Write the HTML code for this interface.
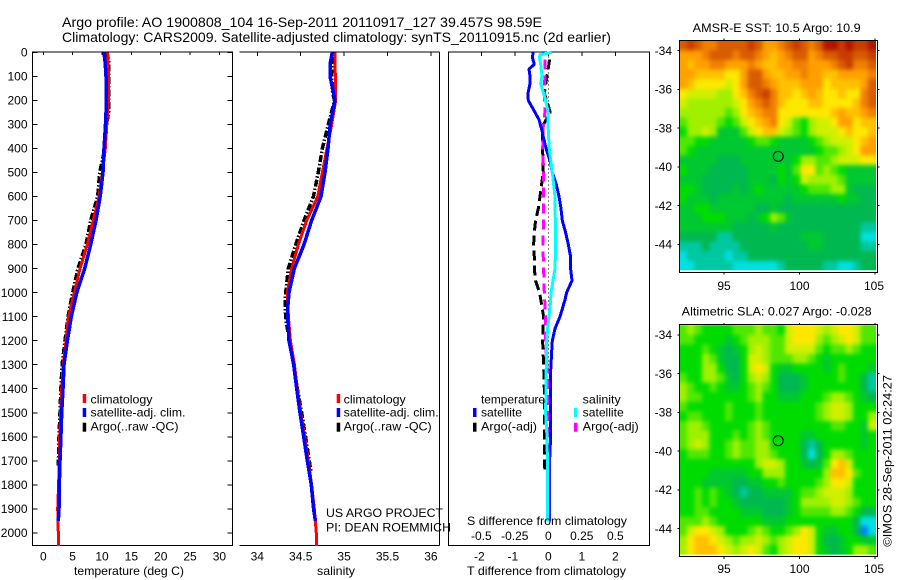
<!DOCTYPE html>
<html lang="en">
<head>
<meta charset="utf-8">
<title>Argo profile 1900808_104</title>
<style>
html,body{margin:0;padding:0;background:#fff;}
svg{display:block;}
text{font-family:"Liberation Sans",sans-serif;font-size:12px;fill:#000;}
</style>
</head>
<body>
<svg id="chart" width="900" height="580" viewBox="0 0 900 580" xmlns="http://www.w3.org/2000/svg">
<defs>
<filter id="map-soften" filterUnits="userSpaceOnUse" x="640" y="0" width="260" height="580" color-interpolation-filters="sRGB"><feGaussianBlur stdDeviation="2"/></filter>
<clipPath id="sst-clip"><rect x="679.5" y="41" width="196.5" height="229.3"/></clipPath>
<clipPath id="sla-clip"><rect x="679.5" y="325.3" width="196.5" height="229.3"/></clipPath>
</defs>
<rect x="0" y="0" width="900" height="580" fill="#fff"/>
<text x="62" y="27" font-size="14" style="font-size:14px" textLength="480" lengthAdjust="spacingAndGlyphs">Argo profile: AO 1900808_104 16-Sep-2011 20110917_127 39.457S 98.59E</text>
<text x="62" y="42" style="font-size:14px" textLength="549" lengthAdjust="spacingAndGlyphs">Climatology: CARS2009. Satellite-adjusted climatology: synTS_20110915.nc (2d earlier)</text>

<g id="panels"></g>

<text x="74" y="575" textLength="110" lengthAdjust="spacingAndGlyphs">temperature (deg C)</text>
<text x="317" y="575" textLength="38" lengthAdjust="spacingAndGlyphs">salinity</text>
<text x="467" y="575" textLength="159" lengthAdjust="spacingAndGlyphs">T difference from climatology</text>
<text x="467" y="525" textLength="160" lengthAdjust="spacingAndGlyphs">S difference from climatology</text>

<g>
<rect x="82.7" y="394" width="3.5" height="9" fill="#f00"/><text x="90.5" y="403.5" textLength="62" lengthAdjust="spacingAndGlyphs">climatology</text>
<rect x="82.7" y="408" width="3.5" height="9" fill="#00f"/><text x="90.5" y="416.7" textLength="95" lengthAdjust="spacingAndGlyphs">satellite-adj. clim.</text>
<rect x="82.7" y="422.7" width="3.5" height="9" fill="#000"/><text x="90.5" y="430.5" textLength="88" lengthAdjust="spacingAndGlyphs">Argo(..raw -QC)</text>
</g>
<g>
<rect x="336.7" y="394" width="3.5" height="9" fill="#f00"/><text x="343.7" y="403.5" textLength="62" lengthAdjust="spacingAndGlyphs">climatology</text>
<rect x="336.7" y="408" width="3.5" height="9" fill="#00f"/><text x="343.7" y="416.7" textLength="95" lengthAdjust="spacingAndGlyphs">satellite-adj. clim.</text>
<rect x="336.7" y="422.7" width="3.5" height="9" fill="#000"/><text x="343.7" y="430.5" textLength="88" lengthAdjust="spacingAndGlyphs">Argo(..raw -QC)</text>
</g>
<g>
<text x="481" y="403.5" textLength="64" lengthAdjust="spacingAndGlyphs">temperature</text>
<rect x="473" y="408" width="3.5" height="9" fill="#00f"/><text x="481" y="416.7" textLength="41" lengthAdjust="spacingAndGlyphs">satellite</text>
<rect x="473" y="422.7" width="3.5" height="9" fill="#000"/><text x="481" y="430.5" textLength="56" lengthAdjust="spacingAndGlyphs">Argo(-adj)</text>
</g>
<g>
<text x="582.7" y="403.5" textLength="38" lengthAdjust="spacingAndGlyphs">salinity</text>
<rect x="574" y="408" width="3.5" height="9" fill="#0ff"/><text x="582.7" y="416.7" textLength="41" lengthAdjust="spacingAndGlyphs">satellite</text>
<rect x="574" y="422.7" width="3.5" height="9" fill="#f0f"/><text x="582.7" y="430.5" textLength="56" lengthAdjust="spacingAndGlyphs">Argo(-adj)</text>
</g>
<text x="326" y="517" textLength="117" lengthAdjust="spacingAndGlyphs">US ARGO PROJECT</text>
<text x="326" y="531.5" textLength="125" lengthAdjust="spacingAndGlyphs">PI: DEAN ROEMMICH</text>

<text x="692.7" y="32" textLength="168" lengthAdjust="spacingAndGlyphs">AMSR-E SST: 10.5 Argo: 10.9</text>
<text x="681.7" y="315.7" textLength="190" lengthAdjust="spacingAndGlyphs">Altimetric SLA: 0.027 Argo: -0.028</text>
<text transform="translate(891.5 546.7) rotate(-90)" x="0" y="0" textLength="171.7" lengthAdjust="spacingAndGlyphs">©IMOS 28-Sep-2011 02:24:27</text>
</svg>

<script>
// axis tick values
const depthTicks = [0,100,200,300,400,500,600,700,800,900,1000,1100,1200,1300,1400,1500,1600,1700,1800,1900,2000];
const tempTicks = [0,5,10,15,20,25,30];
const salTicks = [34,34.5,35,35.5,36];
const tDiffTicks = [-2,-1,0,1,2];
const sDiffTicks = [-0.5,-0.25,0,0.25,0.5];
const lonTicks = [95,100,105];
const latTicks = [-34,-36,-38,-40,-42,-44];

// temperature profiles
const climTempDepth = [0,100,200,300,400,500,600,700,800,900,1000,1100,1200,1300,1400,1500,1600,1700,1800,1900,2000,2055];
const climTemp = [10.97,11.1,11.1,10.8,10.57,10.06,9.5,8.5,7.5,6.25,5.3,4.3,3.87,3.4,3.13,2.96,2.8,2.73,2.6,2.45,2.56,2.55];
const satTempDepth = [0,50,100,150,200,250,300,400,500,600,700,800,900,1000,1100,1200,1300,1400,1500,1600,1700,1800,1900,1950];
const satTemp = [10.34,10.57,10.68,10.68,10.68,10.68,10.6,10.34,10.17,9.7,8.98,8.07,7.05,5.7,4.77,4.1,3.53,3.35,3.13,3.0,2.85,2.73,2.68,2.55];
const argoTempDepth = [0,30,100,150,200,250,300,400,500,600,700,800,900,1000,1100,1200,1300,1400,1500,1600,1720];
const argoTemp = [10.8,11.1,11.1,11.1,11.1,11.1,10.8,10.5,9.6,9.26,8.07,7.27,5.9,5.0,4.2,3.7,3.2,3.0,2.85,2.67,2.55];

// salinity profiles
const climSalDepth = [0,100,200,300,400,500,600,700,800,900,1000,1100,1200,1300,1400,1500,1600,1700,1800,1900,2000,2055];
const climSal = [34.895,34.899,34.903,34.857,34.803,34.75,34.696,34.569,34.473,34.396,34.346,34.358,34.381,34.427,34.461,34.5,34.546,34.588,34.626,34.657,34.68,34.68];
const satSalDepth = [0,50,100,150,200,300,400,500,600,700,800,900,1000,1050,1100,1200,1300,1400,1500,1600,1700,1800,1900,1950];
const satSal = [34.864,34.837,34.837,34.868,34.895,34.84,34.815,34.78,34.734,34.626,34.538,34.426,34.365,34.354,34.35,34.365,34.419,34.454,34.492,34.534,34.576,34.622,34.649,34.669];
const argoSalDepth = [20,100,170,200,300,400,500,600,700,800,900,1000,1050,1100,1150,1200,1300,1400,1500,1600,1700,1750];
const argoSal = [34.876,34.857,34.868,34.89,34.818,34.75,34.703,34.646,34.538,34.442,34.357,34.327,34.319,34.327,34.346,34.377,34.419,34.461,34.511,34.557,34.599,34.619];

// temperature differences from climatology
const satDTDepth = [0,20,50,70,100,130,170,200,220,250,280,320,400,450,500,550,600,650,700,750,800,850,900,950,1000,1030,1100,1150,1200,1250,1300,1350,1400,1500,1600,1700,1800,1950];
const satDT = [-0.448,-0.478,-0.418,-0.577,-0.547,-0.547,-0.607,-0.597,-0.517,-0.398,-0.279,-0.199,-0.07,0.05,0.119,0.239,0.318,0.378,0.418,0.517,0.597,0.667,0.667,0.706,0.547,0.498,0.348,0.199,0.119,0.1,0.08,0.06,0.06,0.06,0.07,0.04,0.03,0.03];
const argoDTDepth = [30,100,170,250,300,350,400,500,550,600,650,700,750,800,850,900,950,1000,1050,1100,1200,1300,1400,1500,1600,1700,1740];
const argoDT = [0.04,-0.04,-0.119,0.06,-0.139,-0.169,-0.169,-0.149,-0.199,-0.249,-0.299,-0.378,-0.418,-0.438,-0.418,-0.418,-0.378,-0.259,-0.199,-0.139,-0.169,-0.139,-0.119,-0.119,-0.119,-0.119,-0.1];

// salinity differences from climatology
const satDSDepth = [0,10,20,50,100,130,170,200,250,300,400,500,600,700,800,900,1000,1050,1100,1150,1200,1300,1400,1500,1600,1700,1800,1950];
const satDS = [0.025,-0.062,-0.067,-0.057,-0.047,-0.057,-0.035,-0.02,0,-0.002,0.007,0.03,0.05,0.052,0.055,0.05,0.02,0.015,0.005,-0.005,-0.012,-0.015,-0.017,-0.02,-0.01,-0.007,-0.007,-0.007];
const argoDSDepth = [30,100,170,250,300,400,500,600,700,800,900,1000,1100,1200,1300,1400,1500,1600,1700,1740];
const argoDS = [-0.025,-0.025,-0.03,-0.025,-0.037,-0.042,-0.035,-0.035,-0.035,-0.04,-0.035,-0.03,-0.02,-0.022,-0.01,0,0,0.005,0.007,0.01];

// float position
const floatLon = 98.59;
const floatLat = -39.457;

// SST map, colour-level per cell, north to south
const sstRows = [
[13,14,13,12,12,13,13,13,13,14,13,11,11,12,13,14,13,12,13,15,15,14,15,14,14,15],
[11,11,11,12,13,13,13,12,13,13,12,11,10,11,12,13,13,11,12,13,13,14,14,13,13,14],
[11,10,11,11,12,12,11,11,11,12,11,10,10,11,11,12,12,11,11,11,12,13,14,12,12,13],
[11,11,10,10,10,10,9,9,11,13,13,11,10,10,11,11,12,11,11,10,10,11,11,11,11,12],
[11,10,9,9,9,9,8,9,11,13,13,12,11,10,10,10,11,11,11,9,10,10,10,10,11,13],
[9,8,8,8,8,7,7,9,10,12,13,14,12,10,10,9,10,11,10,9,9,10,9,9,12,13],
[8,7,7,7,7,7,7,8,9,11,12,13,12,10,9,9,9,10,10,9,9,9,9,10,12,13],
[7,7,7,7,7,7,6,7,9,10,11,12,12,9,9,9,9,9,9,9,10,11,10,10,11,12],
[6,7,7,7,7,6,5,6,8,9,10,11,12,9,8,6,5,7,8,8,9,11,11,9,10,10],
[5,7,7,8,7,4,4,4,6,8,9,10,10,8,7,6,5,7,8,8,8,9,10,9,9,10],
[6,6,5,5,4,4,4,4,4,5,6,6,5,4,4,4,4,5,6,7,8,8,8,9,10,11],
[6,5,4,4,4,4,4,4,4,4,4,4,4,4,4,4,4,4,5,6,6,7,8,9,11,11],
[4,4,4,4,4,3,3,3,4,4,4,4,4,4,4,5,7,7,6,6,7,8,8,8,9,9],
[5,4,4,4,3,3,3,3,3,4,4,4,4,5,4,6,9,9,6,7,6,5,4,4,4,4],
[4,4,4,3,3,3,3,3,3,4,4,4,3,5,4,5,8,7,7,7,7,6,4,4,4,4],
[5,5,4,3,3,3,3,4,3,4,5,4,4,4,4,4,5,6,6,6,7,7,4,3,3,3],
[5,4,4,4,3,4,4,4,4,4,4,4,4,4,3,4,4,4,4,4,4,5,4,4,3,3],
[4,4,5,5,4,4,4,4,4,4,3,3,4,3,3,3,3,3,3,3,3,3,3,3,3,3],
[4,4,4,5,5,5,4,4,4,3,4,5,7,6,4,3,3,3,3,3,3,3,3,3,3,3],
[4,4,4,4,4,4,4,3,3,3,3,3,4,3,3,3,3,3,3,3,3,3,3,3,2,2],
[3,3,3,3,3,2,2,3,3,3,3,3,3,3,3,3,4,4,4,3,3,3,3,3,1,1],
[2,2,2,3,2,2,2,2,3,3,3,3,3,3,3,3,3,4,4,3,3,3,3,3,2,2],
[1,2,2,2,2,2,1,2,2,3,3,3,3,3,3,3,3,3,3,3,3,3,3,3,3,3],
[1,1,2,2,2,2,2,1,1,1,1,1,1,2,3,3,3,3,3,2,2,1,1,2,3,3]
];

// SLA map, colour-level per cell, north to south
const slaRows = [
[6,7,6,5,5,5,5,6,6,6,7,6,6,5,8,9,9,9,8,7,8,9,9,8,6,6],
[6,6,5,5,5,5,4,5,6,7,7,7,6,6,8,9,9,9,7,6,7,8,9,8,6,6],
[5,5,5,6,5,4,3,4,5,7,8,7,6,6,8,8,8,8,6,5,6,6,7,6,5,5],
[5,5,5,7,6,4,3,3,5,8,8,7,6,6,6,7,7,6,5,4,5,5,5,5,5,5],
[5,5,5,7,7,5,3,3,5,8,9,8,5,4,4,5,5,5,5,4,5,6,5,5,5,4],
[6,5,5,7,7,6,4,3,5,7,8,7,5,3,3,3,4,5,5,5,5,6,5,5,3,2],
[7,6,5,5,6,5,4,4,5,6,7,6,5,3,3,3,4,5,5,5,5,5,5,5,3,2],
[7,6,6,5,5,5,5,5,5,6,7,5,5,4,4,4,5,5,5,6,7,7,6,5,4,3],
[6,5,5,5,5,5,6,5,5,5,6,5,5,5,5,5,5,5,6,7,8,8,7,5,5,5],
[5,6,6,5,5,5,6,5,5,5,6,5,5,5,5,5,5,5,6,7,8,8,7,5,5,7],
[6,7,7,6,5,5,5,5,5,6,7,6,5,5,5,5,5,5,5,5,6,6,5,5,4,8],
[6,7,7,7,5,5,5,6,5,6,7,6,5,5,5,5,4,4,5,5,5,5,5,5,4,5],
[6,7,8,7,5,5,6,7,6,6,7,7,5,5,5,5,3,2,3,5,5,5,5,5,4,5],
[5,6,6,6,5,5,6,7,6,6,7,7,6,5,5,5,3,1,3,5,7,7,6,5,5,5],
[5,5,5,5,5,5,5,5,5,5,7,8,8,7,5,5,4,3,4,6,9,10,8,5,5,5],
[5,5,5,5,4,4,4,4,4,5,5,7,7,7,5,5,5,5,5,7,10,10,9,6,5,5],
[5,5,5,4,4,4,4,3,3,4,4,5,5,6,5,5,5,5,6,7,9,9,8,5,5,5],
[5,5,6,5,6,5,4,3,2,3,3,4,4,4,4,5,6,6,7,8,8,8,7,5,5,5],
[5,5,6,5,6,5,5,4,3,3,3,3,3,3,4,5,7,7,7,7,8,8,7,6,5,5],
[5,5,6,6,5,5,5,5,4,4,4,3,3,3,4,5,6,6,6,6,7,7,6,5,3,3],
[6,6,6,7,6,5,5,5,5,5,5,4,4,4,5,5,5,5,5,5,5,5,5,3,1,1],
[6,8,9,9,8,7,5,5,5,6,7,6,5,5,6,7,9,8,5,4,4,5,5,3,0,1],
[7,9,10,10,9,8,7,6,7,7,8,7,6,7,8,9,9,8,5,3,3,4,5,5,4,4],
[7,9,10,10,10,9,8,7,8,9,8,6,5,7,8,9,9,8,5,4,3,4,5,7,7,6]
];

const SVG_NS = 'http://www.w3.org/2000/svg';
const root = document.getElementById('panels');

function make(tag, attrs, parent) {
  const e = document.createElementNS(SVG_NS, tag);
  for (const k in attrs) e.setAttribute(k, attrs[k]);
  (parent || root).appendChild(e);
  return e;
}
function segment(x1, y1, x2, y2, parent) {
  return make('line', {x1:x1, y1:y1, x2:x2, y2:y2, stroke:'#000', 'stroke-width':1, 'shape-rendering':'crispEdges'}, parent);
}
function label(str, x, y, anchor, parent) {
  const t = make('text', {x:x, y:y, 'text-anchor':anchor}, parent);
  t.textContent = str;
  return t;
}

// shared depth axis
const depthY = d => 52.3 + 0.2403 * d;
// x axes
const tempX = v => 43.3 + 5.87 * v;
const salX = v => 257.3 + 86.8 * (v - 34);
const tDiffX = v => 548.3 + 33.5 * v;
const sDiffX = v => 548.3 + 134 * v;

const TOP = 52, BOTTOM = 545.5;

function drawProfile(name, depths, values, xFn, colour, width, dash) {
  const pts = depths.map((d, i) => xFn(values[i]).toFixed(1) + ',' + depthY(d).toFixed(1)).join(' ');
  const attrs = {points:pts, fill:'none', stroke:colour, 'stroke-width':width, 'stroke-linejoin':'bevel', 'shape-rendering':'crispEdges'};
  if (dash) attrs['stroke-dasharray'] = dash;
  const line = make('polyline', attrs);
  
  
}

// ---- temperature panel ----
const tempAxes = make('g', {});


make('rect', {x:32.5, y:TOP, width:200, height:BOTTOM-TOP, fill:'none', stroke:'#000', 'stroke-width':1, 'shape-rendering':'crispEdges'}, tempAxes);
depthTicks.forEach(d => {
  const y = depthY(d);
  segment(32.5, y, 37.5, y, tempAxes);
  segment(227.5, y, 232.5, y, tempAxes);
  label(String(d), 27.5, y + 4.2, 'end', tempAxes);
});
tempTicks.forEach(v => {
  const x = tempX(v);
  segment(x, TOP, x, TOP + 3, tempAxes);
  label(String(v), x, 560.5, 'middle', tempAxes);
});
drawProfile('temperature-argo-line', argoTempDepth, argoTemp, tempX, '#000', 3.5, '7 2 1.5 2');
drawProfile('temperature-climatology-line', climTempDepth, climTemp, tempX, '#f00', 3);
drawProfile('temperature-satellite-line', satTempDepth, satTemp, tempX, '#00f', 3.5);

// ---- salinity panel ----
const salAxes = make('g', {});


segment(239.5, TOP, 439.5, TOP, salAxes);
segment(239.5, BOTTOM, 439.5, BOTTOM, salAxes);
segment(439.5, TOP, 439.5, BOTTOM, salAxes);
salTicks.forEach(v => {
  const x = salX(v);
  segment(x, TOP, x, TOP + 4, salAxes);
  label(String(v), x, 560.5, 'middle', salAxes);
});
drawProfile('salinity-argo-line', argoSalDepth, argoSal, salX, '#000', 3.5, '7 2 1.5 2');
drawProfile('salinity-climatology-line', climSalDepth, climSal, salX, '#f00', 3);
drawProfile('salinity-satellite-line', satSalDepth, satSal, salX, '#00f', 3.5);

// ---- difference panel ----
const diffAxes = make('g', {});


make('rect', {x:448.5, y:TOP, width:201, height:BOTTOM-TOP, fill:'none', stroke:'#000', 'stroke-width':1, 'shape-rendering':'crispEdges'}, diffAxes);
tDiffTicks.forEach(v => {
  const x = tDiffX(v);
  segment(x, TOP, x, TOP + 4, diffAxes);
  label(String(v), x - (v < 0 ? 2 : 0), 560.5, 'middle', diffAxes);
});
sDiffTicks.forEach(v => {
  label(String(v), sDiffX(v), 540, 'middle', diffAxes);
});
const zeroLine = make('line', {x1:tDiffX(0), y1:depthY(0), x2:tDiffX(0), y2:depthY(1350), stroke:'#000', 'stroke-width':1, 'stroke-dasharray':'1 3', 'shape-rendering':'crispEdges'});


drawProfile('t-difference-argo-line', argoDTDepth, argoDT, tDiffX, '#000', 3, '10 5');
drawProfile('s-difference-argo-line', argoDSDepth, argoDS, sDiffX, '#f0f', 3, '10 6');
drawProfile('t-difference-satellite-line', satDTDepth, satDT, tDiffX, '#00f', 3);
drawProfile('s-difference-satellite-line', satDSDepth, satDS, sDiffX, '#0ff', 3);

// ---- maps ----
const levelColours = ['#0080ff','#00e0e0','#00c8a0','#00b850','#00c830','#00dc00','#50e800','#a0f000','#d0f000','#ffe800','#ffc000','#ffa000','#f08000','#d85c00','#c83c00','#b01400'];
const lonX = lon => 724 + (lon - 95) * 15.1;
const LON0 = 92.05, LON_STEP = 0.5, LAT0 = -33.5, LAT_STEP = 0.4935;
const EDGE_PAD = 12;

function drawMap(prefix, rows, lat34Y, lonLabelY) {
  const latY = lat => lat34Y + (-34 - lat) * 19.36;
  const g = make('g', {'clip-path':'url(#' + prefix + '-clip)'});
  
  
  const soft = make('g', {filter:'url(#map-soften)', 'shape-rendering':'crispEdges'}, g);
  const nRows = rows.length;
  rows.forEach((row, r) => {
    const nCols = row.length;
    row.forEach((level, c) => {
      let x0 = lonX(LON0 + c * LON_STEP), x1 = lonX(LON0 + (c + 1) * LON_STEP);
      let y0 = latY(LAT0 - r * LAT_STEP), y1 = latY(LAT0 - (r + 1) * LAT_STEP);
      if (c === 0) x0 -= EDGE_PAD;
      if (c === nCols - 1) x1 += EDGE_PAD;
      if (r === 0) y0 -= EDGE_PAD;
      if (r === nRows - 1) y1 += EDGE_PAD;
      const cell = make('rect', {x:x0.toFixed(2), y:y0.toFixed(2), width:(x1 - x0 + 0.3).toFixed(2), height:(y1 - y0 + 0.3).toFixed(2), fill:levelColours[level]}, soft);
      
      
    });
  });
  const top = latY(LAT0) - 0.5, bottom = top + 232;
  const left = 679.5, right = 877.5;
  const frame = make('g', {});
  
  
  make('rect', {x:left, y:Math.round(top) - 0.5, width:right - left, height:232, fill:'none', stroke:'#000', 'stroke-width':1, 'shape-rendering':'crispEdges'}, frame);
  lonTicks.forEach(v => {
    const x = lonX(v);
    segment(x, bottom, x, bottom + 2, frame);
    segment(x, top, x, top - 2, frame);
    label(String(v), x - (v === 105 ? 1 : 0), lonLabelY, 'middle', frame);
  });
  latTicks.forEach(v => {
    const y = latY(v);
    segment(left - 2, y, left, y, frame);
    segment(right, y, right + 2, y, frame);
    label(String(v), 672, y + 4.2, 'end', frame);
  });
  const marker = make('circle', {cx:lonX(floatLon), cy:latY(floatLat), r:5, fill:'none', stroke:'#000', 'stroke-width':1});
  
  
}
drawMap('sst', sstRows, 50.7, 290);
drawMap('sla', slaRows, 335, 573);
</script>
</body>
</html>
